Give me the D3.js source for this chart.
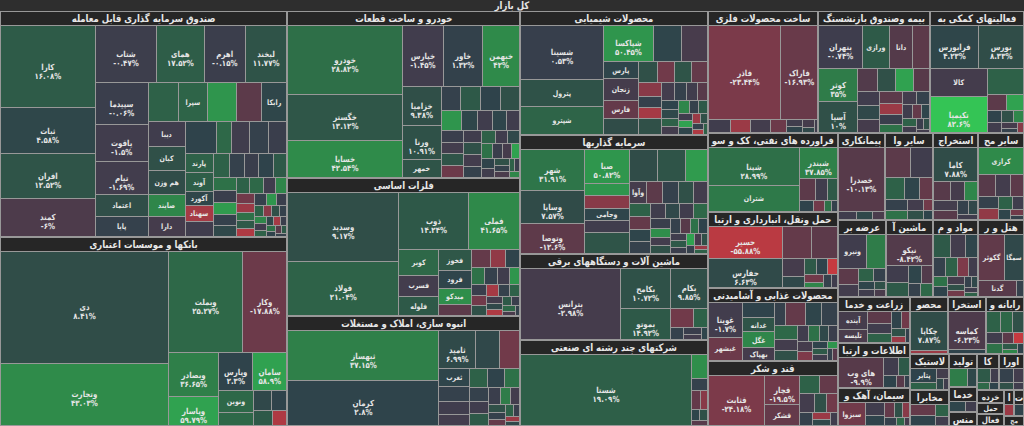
<!DOCTYPE html>
<html><head><meta charset="utf-8">
<script src="https://cdn.jsdelivr.net/npm/d3@7"></script>
<style>
html,body{margin:0;padding:0;background:#2b2b2b;}
svg{display:block;}
text{font-family:"DejaVu Sans",sans-serif;}
</style></head><body>
<svg id="c" width="1024" height="426"></svg>
<script>
const title = "کل بازار";
const sectorNames = [
 "صندوق سرمایه گذاری قابل معامله","بانکها و موسسات اعتباری","خودرو و ساخت قطعات","فلزات اساسی",
 "انبوه سازی، املاک و مستغلات","محصولات شیمیایی","سرمایه گذاریها","ماشین آلات و دستگاههای برقی",
 "شرکتهای چند رشته ای صنعتی","ساخت محصولات فلزی","بیمه وصندوق بازنشستگی بجزتامین اجتماعی",
 "فعالیتهای کمکی به نهادهای مالی واسط","فراورده های نفتی، کک و سوخت هسته ای","حمل ونقل، انبارداری و ارتباطات",
 "محصولات غذایی و آشامیدنی به جز قند و شکر","قند و شکر","پیمانکاری صنعتی","سایر واسطه گریهای مالی",
 "استخراج کانه های فلزی","سایر محصولات کانی غیرفلزی","عرضه برق، گاز، بخاروآب گرم","ماشین آلات و تجهیزات",
 "مواد و محصولات دارویی","هتل و رستوران","زراعت و خدمات وابسته","اطلاعات و ارتباطات","سیمان، آهک و گچ",
 "محصولات کاغذی","استخراج سایر معادن","رایانه و فعالیتهای وابسته به آن","لاستیک و پلاستیک","مخابرات",
 "تولید محصولات کامپیوتری الکترونیکی ونوری","خدمات فنی و مهندسی","منسوجات","کاشی و سرامیک","اوراق تامین مالی",
 "خرده فروشی،باستثنای وسایل نقلیه موتوری","حمل و نقل آبی","فعالیت های هنری، سرگرمی و خلاقانه",
 "استخراج زغال سنگ","تجارت عمده فروشی به جز وسایل موتوری","محصولات چوبی"
];
// [symbol, market value, change %]
const funds = [["کارا",8300,16.08],["ثبات",4660,4.58],["افران",4460,12.52],["کمند",3850,-6],
 ["شتاب",3770,-0.47],["همای",2900,17.52],["اهرم",2530,-0.15],["لبخند",2530,11.77],
 ["سپیدما",2320,-0.06],["یاقوت",2090,-1.5],["تیام",1860,-1.69],["اعتماد",1240,9],["پایا",1130,1],
 ["",1250,20],["سپرا",1210,22.2],["",1210,50],["",1040,-12],["رابکا",1040,3.98],
 ["دیبا",950,-1],["کیان",950,10],["هم وزن",950,8],["صایند",870,40],["دارا",790,-3],
 ["",1050,2],["",510,25],["",615,-1],["",650,1],["",615,0],
 ["پارند",575,20],["آوند",545,18],["آکورد",415,4],["سهناد",480,-45],["",450,-1],
 ["",400,20],["",380,1],["",360,0],["",350,2],["",340,15],["",320,30],["",300,0],["",290,55],["",280,1],
 ["",260,5],["",250,20],["",240,25],["",220,-1],["",200,40],["",190,-20],["",180,-40],["",170,30],["",160,15],
 ["",150,-50],["",140,1],["",130,50],["",120,0],["",110,20],["",100,-30],["",95,10],["",90,1],["",85,40],
 ["",80,-1],["",75,20],["",70,5],["",65,-45],["",60,0],["",55,30],["",50,2],["",45,-10],["",40,15],["",35,1]];
const banks = [["دی",20270,8.41],["وتجارت",11320,43.03],["وبملت",8150,25.27],["وکار",4780,-17.88],
 ["وبصادر",2390,36.65],["وپاسار",1580,59.79],["وپارس",1400,2.3],["سامان",1400,58.9],["ونوین",800,25],
 ["",490,25],["",400,5],["",330,2],["",300,15],["",230,-50]];
const autos = [["خودرو",8610,28.82],["خگستر",5830,13.12],["خساپا",4560,42.54],["خپارس",2750,-1.45],
 ["خاور",2610,1.32],["خبهمن",2480,42],["خزامیا",1660,9.38],["ورنا",1430,10.91],["خمهر",760,12],
 ["",505,1],["",505,15],["",505,2],["",505,10],["",450,50],["خنور",340,4],["",330,-1],["",300,3],["",300,-1],
 ["",300,0],["",290,-2],["",290,12],["",280,-18],["",250,-1],["",240,10],["",230,-2],["",220,1],["",200,20],
 ["",190,-1],["",180,5],["",170,30],["",160,0],["",150,-3],["",140,60],["",130,2],["",120,-1],["",110,10],
 ["",100,1],["",90,-5],["",80,20],["",70,0],["",60,40]];
const metals = [["وسدید",8590,9.17],["فولاد",6720,21.04],["ذوب",4480,14.24],["فملی",3330,41.65],
 ["کوبر",1120,25],["فسرب",940,-2],["فلوله",850,15],["فخوز",740,14],["فرود",670,3],["میدکو",570,45],
 ["",400,-12],["",380,-15],["",300,-35],["",280,2],["",260,30],["",240,1],["",220,-1],["",200,50],["",190,0],
 ["",180,-20],["",170,10],["",160,-45],["",150,1],["",140,20],["",120,-2],["",110,5],["",100,-50],["",90,15],
 ["",80,0],["",70,25],["",60,-5],["",50,1]];
const building = [["ثبهساز",8800,37.15],["کرمان",7760,2.8],["ثامید",1630,6.99],["",1040,5],["",910,-20],
 ["ثغرب",620,3],["",520,1],["",470,-1],["",400,-2],["",380,20],["",360,2],["",320,30],["",300,1],["",280,-1],
 ["",250,15],["",230,0],["",200,35],["",180,-2],["",160,10],["",140,1],["",120,-15],["",100,20],["",90,0],
 ["",80,-40],["",70,5]];
const chem = [["شسینا",5000,0.53],["پترول",2590,11.32],["شپترو",2590,21.87],["شپاکسا",2050,50.45],
 ["",1130,3],["",1045,-4],["پارس",700,3],["زنجان",850,-3],["فارس",750,-15],
 ["",620,8],["",450,10],["",420,-20],["",400,12],["",380,-15],["",350,-30],["",300,1],["",280,-45],["",400,10],
 ["",260,-2],["",240,1],["",220,-1],["",200,-10],["",190,2],["",180,5],["",170,20],["",160,-2],["",150,40],
 ["",140,1],["",130,15],["",120,-1],["",110,60],["",100,3],["",90,-40],["",80,10],["",70,1],["",60,-50],["",50,20]];
const invest = [["شهر",3010,31.91],["وساپا",2370,7.57],["وتوصا",2150,-12.6],["صبا",1740,50.82],
 ["",620,50],["",700,-30],["وجامی",580,3],["",620,-1],["",1080,12],["",1035,8],["",1035,12],["",800,55],
 ["وآوا",420,-3],["",400,-12],["",380,1],["",360,10],["",340,-2],["",320,20],["",300,-15],["",300,3],["",280,1],
 ["",270,-1],["",260,5],["",250,-1],["",240,25],["",220,0],["",200,45],["",190,-2],["",180,10],["",170,1],
 ["",160,-10],["",150,30],["",140,2],["",130,-1],["",120,15],["",110,0],["",100,60],["",90,-3],["",80,10],
 ["",70,1],["",60,-40],["",50,20]];
const electric = [["بترانس",8550,-2.98],["بکامح",2480,10.72],["بموتو",1860,14.92],["بکام",1750,9.85],
 ["",520,-20],["",310,20],["",190,1],["",140,0],["",110,-2],["",90,3]];
const conglom = [["شستا",14630,19.09],["",470,45],["",230,1],["",200,-15],["",160,-30],["",120,3],["",100,10],["",90,-10]];
const metalProd = [["فاذر",7825,-23.44],["فاراک",3965,-16.93],["",330,-1],["",300,-40],["",300,-2],["",230,-18],
 ["",130,-1],["",110,2],["",100,-3],["",80,5],["",50,-1]];
const insurance = [["بنهران",2110,-0.74],["ورازی",1320,15.5],["دانا",1140,-8.7],["بخاور",800,-12],["کوثر",1500,35],
 ["آسیا",1380,10],["",520,-8],["",480,10],["",460,60],["",420,-10],["",360,-1],["",350,5],["",330,-3],["",320,-12],
 ["",280,-40],["",250,0],["",230,30],["",210,-2],["",190,1],["",170,-1],["",150,-15],["",130,3],["",120,20],
 ["",100,-1],["",90,0],["",70,10],["",50,-2]];
const support = [["فرابورس",2380,4.23],["بورس",2180,8.33],["کالا",1850,-2.76],["تکیمیا",2350,82.6],
 ["",1100,20],["",360,-12],["",300,60],["",200,2],["",170,-1],["",150,10],["",130,40],["",110,-3],["",90,1],["",70,-30]];
const petro = [["شپنا",4260,28.99],["شتران",2920,33.69],["شبندر",1440,37.85],["",420,-12],["",330,-1],["",250,15],
 ["",200,2],["",150,-20],["",100,30],["",80,1]];
const transport = [["حسیر",2930,-55.88],["حفارس",2750,6.63],["",1130,-15],["",1020,-12],["",480,-3],["",320,5],
 ["",260,15],["",220,2],["",200,-60],["",180,-20],["",140,40],["",120,1],["",100,-1]];
const food = [["غویتا",1490,-1.7],["غبشهر",990,-18],["",600,2],["غدانه",570,12],["غگل",645,40],["بهپاک",495,-3],
 ["",300,1],["",560,-15],["",460,3],["",430,1],["",400,25],["",320,-2],["",280,10],["",240,-1],["",210,30],
 ["",200,5],["",180,0],["",180,-3],["",160,-25],["",140,2],["",120,15],["",100,-1],["",90,50],["",70,1],["",70,-10]];
const sugar = [["قثابت",3700,-24.18],["قچار",1310,-19.5],["قشکر",960,-15],["",480,20],["",420,-15],["",360,-2],
 ["",300,10],["",260,-20],["",220,1],["",180,-40],["",140,5],["",110,-1]];
const contracting = [["خصدرا",3590,-10.13],["",180,-1],["",150,5],["",120,-5]];
const otherFin = [["",900,-12],["",800,-1],["",500,20],["",400,3],["",350,-15],["",300,1],["",250,30],["",220,-2],
 ["",180,10],["",130,-20],["",100,2]];
const metalMining = [["کاما",1800,7.88],["",400,-10],["",330,-3],["کگل",315,40],["",300,-2],["",250,-10],["",200,1],
 ["",150,5],["",130,-1]];
const nonMetal = [["کرازی",1450,42.13],["",450,-10],["",400,-2],["",350,-12],["",300,1],["",260,-35],["",220,20],
 ["",180,-1],["",150,3],["",100,-20],["",60,1]];
const power = [["ونیرو",1210,-1.1],["",800,35],["",400,-12],["",300,-2],["",250,20],["",200,1],["",170,3],["",150,-1],
 ["",120,10],["",100,-5]];
const equipment = [["نیکو",1770,-8.42],["",450,-1],["",380,15],["",300,3],["",250,-8],["",200,1],["",180,25]];
const pharma = [["",500,15],["",450,-2],["",350,3],["",300,1],["",280,20],["",250,-25],["",220,-1],["",200,30],
 ["",180,2],["",160,-3],["",140,10],["",120,-20],["",100,1],["",90,5],["",80,-1],["",70,20]];
const hotel = [["گکوثر",1480,-13.79],["سمگا",1100,5],["گدنا",770,-10],["",150,1]];
const agri = [["آینده",780,-3],["تلیسه",570,-5],["",420,-12],["",380,-1],["",300,20],["",250,2],["",200,-20],
 ["",160,10],["",120,-40],["",100,1]];
const ict = [["های وب",2090,-9.9],["",400,-1],["",300,15],["",250,2],["",150,-10],["",100,1]];
const cement = [["سبزوا",1010,-20],["",400,-1],["",330,2],["",260,-15],["",200,10],["",180,-30],["",150,1],["",100,25],["",70,-3]];
const paper = [["چکاپا",1970,7.87],["",140,-40]];
const otherMining = [["کماسه",1970,-6.23],["",200,2]];
const computer = [["",400,20],["",350,25],["",300,10],["",250,-1],["",220,30],["",180,-12],["",150,-60],["",120,15],["",100,40],["",80,2]];
const rubber = [["پتایر",630,2],["",300,20],["",200,-2],["",130,5],["",100,-1]];
const telecom = [["",500,-15],["",400,2],["",300,20],["",200,-1]];
const electronics = [["",600,35],["",300,5]];
const engineering = [["",400,3],["",290,-1]];
const textile = [["",390,2]];
const ceramics = [["",320,15],["",200,-1],["",150,25],["",100,2]];
const bonds = [["",350,1],["",250,-2],["",180,10],["",130,-1]];
const retail = [["",330,5]];
const shipping = [["",300,-2]];
const arts = [["",330,1]];
const coal = [["",250,-40]];
const wholesale = [["",250,2]];
const wood = [["",200,1]];
const sectorTiles = [funds,banks,autos,metals,building,chem,invest,electric,conglom,metalProd,insurance,support,
 petro,transport,food,sugar,contracting,otherFin,metalMining,nonMetal,power,equipment,pharma,hotel,agri,ict,cement,
 paper,otherMining,computer,rubber,telecom,electronics,engineering,textile,ceramics,bonds,retail,shipping,arts,coal,wholesale,wood];

// colour stops (change % -> fill)
const colorDomain = [-70,-55,-24,-10,-1,0,2,8,16,27,42,60,85];
const colorRange = ["#e23a3c","#b83a42","#7c3a4a","#573a4a","#403d4d","#3a3e4c","#2f434b","#304c48","#2e5b48","#2e6b48","#2f8a4a","#30a250","#34c856"];
const color = d3.scaleLinear().domain(colorDomain).range(colorRange).clamp(true);

const W = 1024, H = 426;
const S2 = 1.18;            // stocks inside a sector are squarified in a vertically stretched frame
const HX = 0.74, VY = 0.88; // lettering squeeze
const fa = s => s.replace(/\d/g, c => "۰۱۲۳۴۵۶۷۸۹"[+c]);
const pct = v => fa(String(v)) + "%";

const data = {name: title, children: sectorNames.map((n, i) => ({name: n,
  children: sectorTiles[i].map(t => ({name: t[0], value: t[1], change: t[2]}))}))};
const root = d3.hierarchy(data).sum(d => d.children ? 0 : d.value);

function tile(node, x0, y0, x1, y1) {
  if (node.depth < 2) {
    // sectors: squarify over the whole box incl. title; stocks: in a stretched frame
    const f = node.depth === 0 ? y1 / (y1 - y0) : S2;
    const hh = (y1 - y0) * f;
    d3.treemapSquarify(node, x0, 0, x1, hh);
    node.children.forEach(c => { c.y0 = y0 + c.y0 / f; c.y1 = y0 + c.y1 / f; });
  } else d3.treemapSquarify(node, x0, y0, x1, y1);
}
d3.treemap().size([W, H]).tile(tile)
  .paddingInner(d => d.depth === 0 ? 2 : 1)
  .paddingLeft(d => d.depth === 0 ? 1 : 0)
  .paddingRight(d => d.depth === 0 ? 1 : 0)
  .paddingBottom(d => d.depth === 0 ? 1 : 0)
  .paddingTop(d => d.depth === 0 ? 12 : 14)(root);

const svg = d3.select("#c");
svg.append("rect").attr("width", W).attr("height", H).attr("fill", "#989898");

function txt(parent, x, y, str, fs) {
  return parent.append("text").attr("transform", `translate(${x},${y}) scale(${HX},${VY})`)
    .attr("font-size", fs).attr("text-anchor", "middle").text(str);
}
const tlen = t => t.node().getComputedTextLength() * HX;

svg.append("rect").attr("width", W).attr("height", 11).attr("fill", "#2e2e2e");
txt(svg, W / 2, 9, title, 11.5).attr("font-weight", "bold").attr("fill", "#e6e6e6");

const leaves = root.leaves();
svg.append("g").selectAll("rect").data(leaves).join("rect")
  .attr("x", d => d.x0).attr("y", d => d.y0)
  .attr("width", d => Math.max(0, d.x1 - d.x0)).attr("height", d => Math.max(0, d.y1 - d.y0))
  .attr("fill", d => color(d.data.change)).attr("shape-rendering", "crispEdges");

const heads = svg.append("g").attr("font-weight", "bold").attr("fill", "#e8e8e8");
root.children.forEach(s => {
  const w = s.x1 - s.x0, h = Math.min(13, s.y1 - s.y0);
  if (w <= 0 || h <= 0) return;
  heads.append("rect").attr("x", s.x0).attr("y", s.y0).attr("width", w).attr("height", h)
    .attr("fill", "#262626").attr("shape-rendering", "crispEdges");
  if (h < 6) return;
  const fs = Math.min(11.5, (h - 1) * 1.05);
  let name = s.data.name;
  const t = txt(heads, (s.x0 + s.x1) / 2, s.y0 + Math.min(10, h * 0.8), name, fs);
  while (tlen(t) > w - 5 && name.length > 1) {
    name = name.slice(0, -1).trimEnd();
    t.text(name);
  }
});

const labels = svg.append("g").attr("fill", "#e6e6e6").attr("font-weight", "bold");
leaves.forEach(d => {
  if (!d.data.name) return;
  const w = d.x1 - d.x0, h = d.y1 - d.y0, cx = (d.x0 + d.x1) / 2, cy = (d.y0 + d.y1) / 2;
  if (w >= 30 && h >= 28) {
    const a = txt(labels, cx, cy + 3, d.data.name, 9.5);
    const b = txt(labels, cx, cy + 12, pct(d.data.change), 9.5);
    [a, b].forEach(t => { let fs = 9.5; while (tlen(t) > w - 3 && fs > 5) { fs -= 0.5; t.attr("font-size", fs); } });
  } else if (w >= 16 && h >= 9) {
    let fs = Math.min(8.5, (h - 2) * 1.1);
    const t = txt(labels, cx, cy + fs * 0.32, d.data.name, fs);
    while (tlen(t) > w - 2 && fs > 5) { fs -= 0.5; t.attr("font-size", fs); }
    if (tlen(t) > w - 1) t.remove();
  }
});
</script>
</body></html>
